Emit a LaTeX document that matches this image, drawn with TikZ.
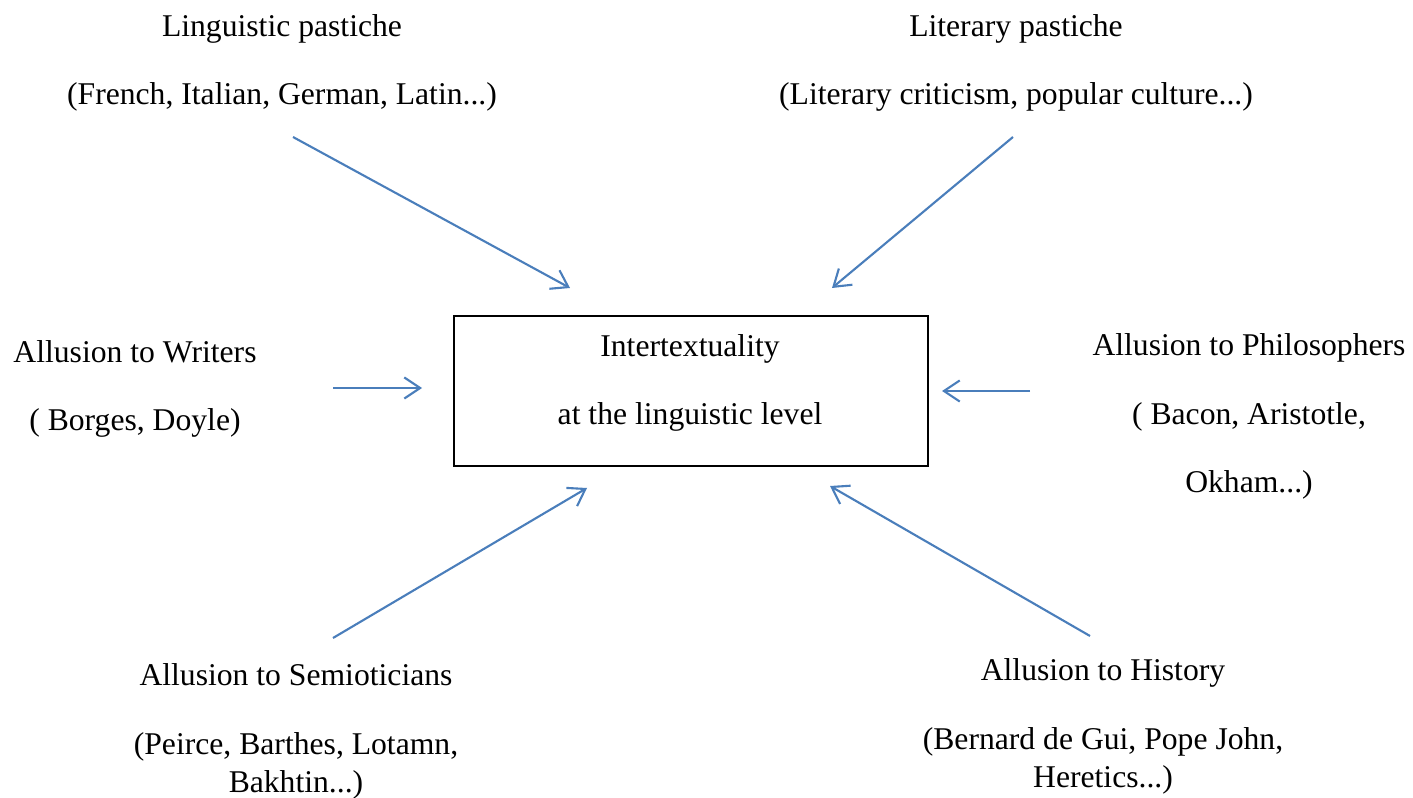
\documentclass[tikz,border=0pt]{standalone}
\usepackage{fontspec}
\setmainfont{Liberation Serif}
\usetikzlibrary{arrows.meta}
\definecolor{arrowblue}{RGB}{74,126,187}
\tikzstyle{textlabel}=[anchor=base,align=center,inner sep=0pt,font=\fontsize{9}{19.5}\selectfont]
\tikzstyle{centrebox}=[draw,line width=0.5pt,minimum width=4.74cm,minimum height=1.5cm,inner sep=0pt]
\tikzstyle{arrowedge}=[draw,arrowblue,line width=0.6pt,-{Straight Barb[length=4.5pt,width=6pt]}]

\begin{document}
\begin{tikzpicture}[x=0.01cm,y=-0.01cm]
    \useasboundingbox (0,0) rectangle (1413,798);

    % central box (positions are the baselines of the last lines)
    \node[centrebox] (box) at (691,391) {};
    \node[textlabel] (inter) at (690,425) {Intertextuality\\at the linguistic level};

    % surrounding labels
    \foreach \pos/ \name/ \txt in {{(282,105)/ling/{Linguistic pastiche\\(French, Italian, German, Latin...)}},
                                  {(1016,105)/lit/{Literary pastiche\\(Literary criticism, popular culture...)}},
                                  {(135,431)/writ/{Allusion to Writers\\( Borges, Doyle)}},
                                  {(1249,493)/phil/{Allusion to Philosophers\\( Bacon, Aristotle,\\Okham...)}},
                                  {(296,792)/semi/{Allusion to Semioticians\\(Peirce, Barthes, Lotamn,\\[-8.7pt]Bakhtin...)}},
                                  {(1103,787)/hist/{Allusion to History\\(Bernard de Gui, Pope John,\\[-8.7pt]Heretics...)}}}
        \node[textlabel] (\name) at \pos {\txt};

    % arrow ends
    \foreach \pos/ \name in {{(293,137)/ling-s}, {(570,288)/ling-e}, {(1013,137)/lit-s}, {(832,288)/lit-e},
                            {(333,388)/writ-s}, {(422,388)/writ-e}, {(1030,391)/phil-s}, {(942,391)/phil-e},
                            {(333,638)/semi-s}, {(587,488)/semi-e}, {(1090,636)/hist-s}, {(830,486)/hist-e}}
        \path \pos coordinate (\name);

    % arrows into the box
    \foreach \source/ \dest in {ling-s/ling-e, lit-s/lit-e, writ-s/writ-e, phil-s/phil-e, semi-s/semi-e, hist-s/hist-e}
        \path[arrowedge] (\source) -- (\dest);

\end{tikzpicture}
\end{document}
